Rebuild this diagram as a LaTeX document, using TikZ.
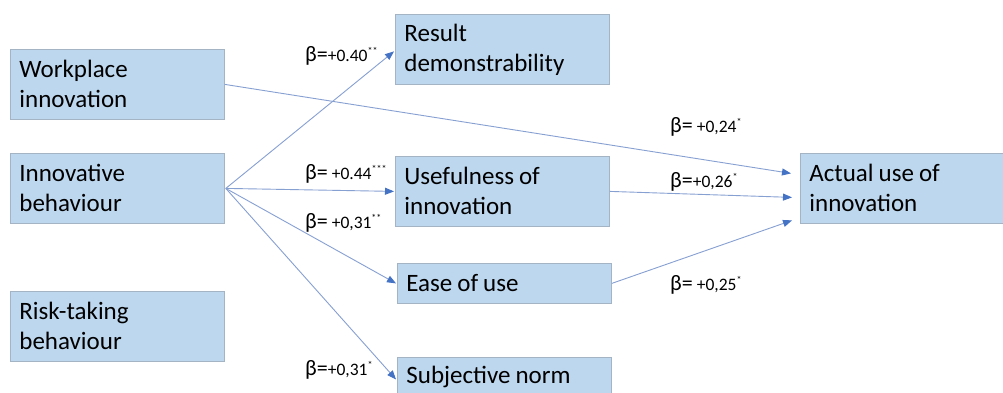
\documentclass[tikz,border=0pt]{standalone}
\usepackage{fontspec}
\setmainfont{Carlito}
\usetikzlibrary{arrows.meta}
\definecolor{boxfill}{RGB}{189,215,238}
\definecolor{boxline}{RGB}{165,180,196}
\definecolor{linecol}{RGB}{135,160,210}
\definecolor{tipcol}{RGB}{68,114,196}
\newcommand{\bxfont}{\fontsize{25}{30}\selectfont}
\newcommand{\tightsp}{\spaceskip=5pt\relax}
\tikzset{
  vbox/.style={draw=boxline, line width=0.8pt, fill=boxfill, rectangle, anchor=north west,
    minimum width=214pt, minimum height=70pt, text width=196pt, align=left,
    font=\bxfont, execute at begin node=\tightsp, inner xsep=9pt, inner ysep=0pt},
  sbox/.style={vbox, minimum height=40pt},
  conn/.style={draw=linecol, line width=0.9pt, -{Triangle[length=9pt,width=7pt,fill=tipcol,color=tipcol]}},
  beta/.style={inner sep=0pt, anchor=base west}
}
\newcommand{\bval}[2]{{\fontsize{22}{22}\selectfont β=}{\fontsize{17.5}{18}\selectfont#1}\raisebox{7pt}{\fontsize{10}{10}\selectfont#2}}
\begin{document}
\begin{tikzpicture}[x=1pt,y=-1pt]
\useasboundingbox (0,0) rectangle (1003,393);
\clip (0,0) rectangle (1003,393);
\fill[white] (0,0) rectangle (1003,393);
\node[vbox] (wi) at (10,49) {Workplace\\innovation};
\node[vbox] (ib) at (10,153) {Innovative\\behaviour};
\node[vbox] (rt) at (10,291) {Risk-taking\\behaviour};
\node[vbox] (rd) at (395,14) {Result\\demonstrability};
\node[vbox] (us) at (395,156) {Usefulness of\\innovation};
\node[sbox] (eu) at (397,263) {Ease of use};
\node[sbox] (sn) at (397,357) {Subjective norm};
\node[vbox] (au) at (800,153) {Actual use of\\innovation};

\coordinate (ibo) at ([xshift=1pt]ib.east);
\draw[conn] (ibo) -- ([yshift=-2pt,xshift=-1pt]rd.west);
\draw[conn] (ibo) -- ([xshift=-1pt]us.west);
\draw[conn] (ibo) -- ([xshift=-1pt]eu.west);
\draw[conn] (ibo) -- ([yshift=-2pt,xshift=-1pt]sn.west);
\draw[conn] (wi.east) -- ([yshift=15pt,xshift=-9pt]au.west);
\draw[conn] (us.east) -- ([yshift=-9pt,xshift=-8pt]au.west);
\draw[conn] (eu.east) -- ([yshift=-32pt,xshift=-8pt]au.west);

\node[beta] (l1) at (305,62) {\bval{+0.40}{**}};
\node[beta] (l2) at (305,179) {\bval{ +0.44}{***}};
\node[beta] (l3) at (305,228) {\bval{ +0,31}{**}};
\node[beta] (l4) at (305,375) {\bval{+0,31}{*}};
\node[beta] (l5) at (670,132) {\bval{ +0,24}{*}};
\node[beta] (l6) at (670,187) {\bval{+0,26}{*}};
\node[beta] (l7) at (670,290) {\bval{ +0,25}{*}};
\end{tikzpicture}
\end{document}
